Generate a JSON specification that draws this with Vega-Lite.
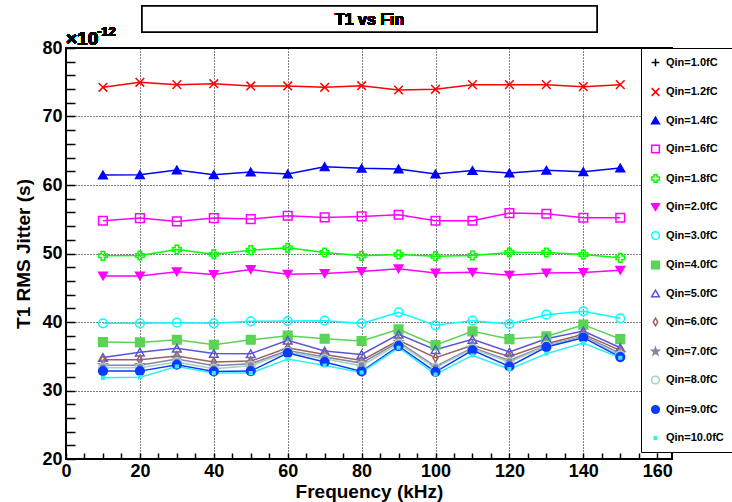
{
  "$schema": "https://vega.github.io/schema/vega-lite/v6.json",
  "width": 606,
  "height": 411,
  "autosize": {"type": "none"},
  "padding": {"left": 66, "top": 48, "right": 60, "bottom": 43},
  "background": "white",
  "config": {
    "font": "Liberation Sans",
    "view": {"stroke": "black", "strokeWidth": 2}
  },
  "data": {"values": [
    {"qin":"Qin=1.2fC","freq":10,"jitter":74.26},{"qin":"Qin=1.2fC","freq":20,"jitter":74.99},{"qin":"Qin=1.2fC","freq":30,"jitter":74.65},{"qin":"Qin=1.2fC","freq":40,"jitter":74.79},{"qin":"Qin=1.2fC","freq":50,"jitter":74.46},{"qin":"Qin=1.2fC","freq":60,"jitter":74.46},{"qin":"Qin=1.2fC","freq":70,"jitter":74.26},{"qin":"Qin=1.2fC","freq":80,"jitter":74.5},{"qin":"Qin=1.2fC","freq":90,"jitter":73.87},{"qin":"Qin=1.2fC","freq":100,"jitter":73.97},{"qin":"Qin=1.2fC","freq":110,"jitter":74.65},{"qin":"Qin=1.2fC","freq":120,"jitter":74.65},{"qin":"Qin=1.2fC","freq":130,"jitter":74.65},{"qin":"Qin=1.2fC","freq":140,"jitter":74.36},{"qin":"Qin=1.2fC","freq":150,"jitter":74.65},
    {"qin":"Qin=1.4fC","freq":10,"jitter":61.46},{"qin":"Qin=1.4fC","freq":20,"jitter":61.51},{"qin":"Qin=1.4fC","freq":30,"jitter":62.2},{"qin":"Qin=1.4fC","freq":40,"jitter":61.51},{"qin":"Qin=1.4fC","freq":50,"jitter":61.9},{"qin":"Qin=1.4fC","freq":60,"jitter":61.61},{"qin":"Qin=1.4fC","freq":70,"jitter":62.68},{"qin":"Qin=1.4fC","freq":80,"jitter":62.44},{"qin":"Qin=1.4fC","freq":90,"jitter":62.34},{"qin":"Qin=1.4fC","freq":100,"jitter":61.61},{"qin":"Qin=1.4fC","freq":110,"jitter":62.1},{"qin":"Qin=1.4fC","freq":120,"jitter":61.76},{"qin":"Qin=1.4fC","freq":130,"jitter":62.15},{"qin":"Qin=1.4fC","freq":140,"jitter":61.95},{"qin":"Qin=1.4fC","freq":150,"jitter":62.49},
    {"qin":"Qin=1.6fC","freq":10,"jitter":54.78},{"qin":"Qin=1.6fC","freq":20,"jitter":55.17},{"qin":"Qin=1.6fC","freq":30,"jitter":54.68},{"qin":"Qin=1.6fC","freq":40,"jitter":55.17},{"qin":"Qin=1.6fC","freq":50,"jitter":55.02},{"qin":"Qin=1.6fC","freq":60,"jitter":55.51},{"qin":"Qin=1.6fC","freq":70,"jitter":55.27},{"qin":"Qin=1.6fC","freq":80,"jitter":55.41},{"qin":"Qin=1.6fC","freq":90,"jitter":55.66},{"qin":"Qin=1.6fC","freq":100,"jitter":54.78},{"qin":"Qin=1.6fC","freq":110,"jitter":54.78},{"qin":"Qin=1.6fC","freq":120,"jitter":55.9},{"qin":"Qin=1.6fC","freq":130,"jitter":55.8},{"qin":"Qin=1.6fC","freq":140,"jitter":55.22},{"qin":"Qin=1.6fC","freq":150,"jitter":55.22},
    {"qin":"Qin=1.8fC","freq":10,"jitter":49.66},{"qin":"Qin=1.8fC","freq":20,"jitter":49.71},{"qin":"Qin=1.8fC","freq":30,"jitter":50.59},{"qin":"Qin=1.8fC","freq":40,"jitter":49.9},{"qin":"Qin=1.8fC","freq":50,"jitter":50.49},{"qin":"Qin=1.8fC","freq":60,"jitter":50.83},{"qin":"Qin=1.8fC","freq":70,"jitter":50.15},{"qin":"Qin=1.8fC","freq":80,"jitter":49.66},{"qin":"Qin=1.8fC","freq":90,"jitter":49.85},{"qin":"Qin=1.8fC","freq":100,"jitter":49.61},{"qin":"Qin=1.8fC","freq":110,"jitter":49.71},{"qin":"Qin=1.8fC","freq":120,"jitter":50.15},{"qin":"Qin=1.8fC","freq":130,"jitter":50.15},{"qin":"Qin=1.8fC","freq":140,"jitter":49.85},{"qin":"Qin=1.8fC","freq":150,"jitter":49.37},
    {"qin":"Qin=2.0fC","freq":10,"jitter":46.73},{"qin":"Qin=2.0fC","freq":20,"jitter":46.73},{"qin":"Qin=2.0fC","freq":30,"jitter":47.32},{"qin":"Qin=2.0fC","freq":40,"jitter":46.93},{"qin":"Qin=2.0fC","freq":50,"jitter":47.66},{"qin":"Qin=2.0fC","freq":60,"jitter":46.98},{"qin":"Qin=2.0fC","freq":70,"jitter":47.07},{"qin":"Qin=2.0fC","freq":80,"jitter":47.37},{"qin":"Qin=2.0fC","freq":90,"jitter":47.76},{"qin":"Qin=2.0fC","freq":100,"jitter":47.17},{"qin":"Qin=2.0fC","freq":110,"jitter":47.27},{"qin":"Qin=2.0fC","freq":120,"jitter":46.83},{"qin":"Qin=2.0fC","freq":130,"jitter":47.17},{"qin":"Qin=2.0fC","freq":140,"jitter":47.22},{"qin":"Qin=2.0fC","freq":150,"jitter":47.56},
    {"qin":"Qin=3.0fC","freq":10,"jitter":39.8},{"qin":"Qin=3.0fC","freq":20,"jitter":39.8},{"qin":"Qin=3.0fC","freq":30,"jitter":39.9},{"qin":"Qin=3.0fC","freq":40,"jitter":39.8},{"qin":"Qin=3.0fC","freq":50,"jitter":40.1},{"qin":"Qin=3.0fC","freq":60,"jitter":40.15},{"qin":"Qin=3.0fC","freq":70,"jitter":40.2},{"qin":"Qin=3.0fC","freq":80,"jitter":39.8},{"qin":"Qin=3.0fC","freq":90,"jitter":41.41},{"qin":"Qin=3.0fC","freq":100,"jitter":39.51},{"qin":"Qin=3.0fC","freq":110,"jitter":40.2},{"qin":"Qin=3.0fC","freq":120,"jitter":39.71},{"qin":"Qin=3.0fC","freq":130,"jitter":41.07},{"qin":"Qin=3.0fC","freq":140,"jitter":41.56},{"qin":"Qin=3.0fC","freq":150,"jitter":40.54},
    {"qin":"Qin=4.0fC","freq":10,"jitter":37.07},{"qin":"Qin=4.0fC","freq":20,"jitter":37.02},{"qin":"Qin=4.0fC","freq":30,"jitter":37.41},{"qin":"Qin=4.0fC","freq":40,"jitter":36.68},{"qin":"Qin=4.0fC","freq":50,"jitter":37.41},{"qin":"Qin=4.0fC","freq":60,"jitter":38.0},{"qin":"Qin=4.0fC","freq":70,"jitter":37.56},{"qin":"Qin=4.0fC","freq":80,"jitter":37.22},{"qin":"Qin=4.0fC","freq":90,"jitter":38.93},{"qin":"Qin=4.0fC","freq":100,"jitter":36.63},{"qin":"Qin=4.0fC","freq":110,"jitter":38.63},{"qin":"Qin=4.0fC","freq":120,"jitter":37.51},{"qin":"Qin=4.0fC","freq":130,"jitter":37.9},{"qin":"Qin=4.0fC","freq":140,"jitter":39.61},{"qin":"Qin=4.0fC","freq":150,"jitter":37.51},
    {"qin":"Qin=5.0fC","freq":10,"jitter":34.83},{"qin":"Qin=5.0fC","freq":20,"jitter":35.6},{"qin":"Qin=5.0fC","freq":30,"jitter":36.15},{"qin":"Qin=5.0fC","freq":40,"jitter":35.4},{"qin":"Qin=5.0fC","freq":50,"jitter":35.37},{"qin":"Qin=5.0fC","freq":60,"jitter":37.32},{"qin":"Qin=5.0fC","freq":70,"jitter":35.76},{"qin":"Qin=5.0fC","freq":80,"jitter":35.27},{"qin":"Qin=5.0fC","freq":90,"jitter":38.2},{"qin":"Qin=5.0fC","freq":100,"jitter":35.95},{"qin":"Qin=5.0fC","freq":110,"jitter":37.46},{"qin":"Qin=5.0fC","freq":120,"jitter":35.61},{"qin":"Qin=5.0fC","freq":130,"jitter":37.56},{"qin":"Qin=5.0fC","freq":140,"jitter":38.68},{"qin":"Qin=5.0fC","freq":150,"jitter":36.24},
    {"qin":"Qin=6.0fC","freq":10,"jitter":34.49},{"qin":"Qin=6.0fC","freq":20,"jitter":34.49},{"qin":"Qin=6.0fC","freq":30,"jitter":35.02},{"qin":"Qin=6.0fC","freq":40,"jitter":34.15},{"qin":"Qin=6.0fC","freq":50,"jitter":34.29},{"qin":"Qin=6.0fC","freq":60,"jitter":36.24},{"qin":"Qin=6.0fC","freq":70,"jitter":35.27},{"qin":"Qin=6.0fC","freq":80,"jitter":34.39},{"qin":"Qin=6.0fC","freq":90,"jitter":37.32},{"qin":"Qin=6.0fC","freq":100,"jitter":34.78},{"qin":"Qin=6.0fC","freq":110,"jitter":36.59},{"qin":"Qin=6.0fC","freq":120,"jitter":34.98},{"qin":"Qin=6.0fC","freq":130,"jitter":36.83},{"qin":"Qin=6.0fC","freq":140,"jitter":38.2},{"qin":"Qin=6.0fC","freq":150,"jitter":35.85},
    {"qin":"Qin=7.0fC","freq":10,"jitter":33.7},{"qin":"Qin=7.0fC","freq":20,"jitter":33.7},{"qin":"Qin=7.0fC","freq":30,"jitter":34.6},{"qin":"Qin=7.0fC","freq":40,"jitter":33.6},{"qin":"Qin=7.0fC","freq":50,"jitter":33.9},{"qin":"Qin=7.0fC","freq":60,"jitter":35.85},{"qin":"Qin=7.0fC","freq":70,"jitter":34.9},{"qin":"Qin=7.0fC","freq":80,"jitter":34.0},{"qin":"Qin=7.0fC","freq":90,"jitter":37.07},{"qin":"Qin=7.0fC","freq":100,"jitter":33.51},{"qin":"Qin=7.0fC","freq":110,"jitter":36.24},{"qin":"Qin=7.0fC","freq":120,"jitter":34.39},{"qin":"Qin=7.0fC","freq":130,"jitter":36.59},{"qin":"Qin=7.0fC","freq":140,"jitter":37.9},{"qin":"Qin=7.0fC","freq":150,"jitter":35.46},
    {"qin":"Qin=8.0fC","freq":10,"jitter":33.32},{"qin":"Qin=8.0fC","freq":20,"jitter":33.32},{"qin":"Qin=8.0fC","freq":30,"jitter":34.15},{"qin":"Qin=8.0fC","freq":40,"jitter":33.17},{"qin":"Qin=8.0fC","freq":50,"jitter":33.6},{"qin":"Qin=8.0fC","freq":60,"jitter":35.6},{"qin":"Qin=8.0fC","freq":70,"jitter":34.63},{"qin":"Qin=8.0fC","freq":80,"jitter":33.6},{"qin":"Qin=8.0fC","freq":90,"jitter":36.83},{"qin":"Qin=8.0fC","freq":100,"jitter":33.32},{"qin":"Qin=8.0fC","freq":110,"jitter":36.1},{"qin":"Qin=8.0fC","freq":120,"jitter":34.15},{"qin":"Qin=8.0fC","freq":130,"jitter":36.54},{"qin":"Qin=8.0fC","freq":140,"jitter":37.8},{"qin":"Qin=8.0fC","freq":150,"jitter":35.12},
    {"qin":"Qin=9.0fC","freq":10,"jitter":32.83},{"qin":"Qin=9.0fC","freq":20,"jitter":32.83},{"qin":"Qin=9.0fC","freq":30,"jitter":33.76},{"qin":"Qin=9.0fC","freq":40,"jitter":32.78},{"qin":"Qin=9.0fC","freq":50,"jitter":32.83},{"qin":"Qin=9.0fC","freq":60,"jitter":35.46},{"qin":"Qin=9.0fC","freq":70,"jitter":34.15},{"qin":"Qin=9.0fC","freq":80,"jitter":32.78},{"qin":"Qin=9.0fC","freq":90,"jitter":36.49},{"qin":"Qin=9.0fC","freq":100,"jitter":32.73},{"qin":"Qin=9.0fC","freq":110,"jitter":35.85},{"qin":"Qin=9.0fC","freq":120,"jitter":33.51},{"qin":"Qin=9.0fC","freq":130,"jitter":36.34},{"qin":"Qin=9.0fC","freq":140,"jitter":37.71},{"qin":"Qin=9.0fC","freq":150,"jitter":34.88},
    {"qin":"Qin=10.0fC","freq":10,"jitter":31.85},{"qin":"Qin=10.0fC","freq":20,"jitter":31.95},{"qin":"Qin=10.0fC","freq":30,"jitter":33.51},{"qin":"Qin=10.0fC","freq":40,"jitter":32.54},{"qin":"Qin=10.0fC","freq":50,"jitter":32.54},{"qin":"Qin=10.0fC","freq":60,"jitter":34.59},{"qin":"Qin=10.0fC","freq":70,"jitter":33.66},{"qin":"Qin=10.0fC","freq":80,"jitter":32.63},{"qin":"Qin=10.0fC","freq":90,"jitter":36.24},{"qin":"Qin=10.0fC","freq":100,"jitter":32.34},{"qin":"Qin=10.0fC","freq":110,"jitter":35.12},{"qin":"Qin=10.0fC","freq":120,"jitter":33.12},{"qin":"Qin=10.0fC","freq":130,"jitter":35.37},{"qin":"Qin=10.0fC","freq":140,"jitter":36.93},{"qin":"Qin=10.0fC","freq":150,"jitter":34.78}
  ]},
  "resolve": {"axis": {"x": "independent", "y": "independent"}},
  "layer": [
    {
      "mark": {"type": "line", "strokeWidth": 1.5, "clip": false},
      "encoding": {
        "x": {"field": "freq", "type": "quantitative",
          "scale": {"domain": [0, 164], "nice": false, "zero": false},
          "axis": {"orient": "bottom", "offset": -6, "values": [0,5,10,15,20,25,30,35,40,45,50,55,60,65,70,75,80,85,90,95,100,105,110,115,120,125,130,135,140,145,150,155,160],
            "ticks": true, "tickColor": "black", "tickWidth": 1.5, "tickSize": 6,
            "grid": true, "gridDash": [1,2], "gridColor": "black", "gridWidth": 1,
            "gridOpacity": {"condition": {"test": "datum.value % 20 === 0", "value": 1}, "value": 0},
            "domain": false,
            "labelExpr": "datum.value % 20 === 0 ? datum.label : ''",
            "labelFont": "Liberation Sans", "labelFontWeight": "bold", "labelFontSize": 18, "labelColor": "black", "labelPadding": 3, "labelFlush": false, "labelOverlap": false,
            "title": "Frequency (kHz)", "titleFont": "Liberation Sans", "titleFontWeight": "bold", "titleFontSize": 19, "titleColor": "black", "titlePadding": 2}},
        "y": {"field": "jitter", "type": "quantitative",
          "scale": {"domain": [20, 80], "nice": false, "zero": false},
          "axis": {"orient": "left", "offset": -9, "values": [20,22,24,26,28,30,32,34,36,38,40,42,44,46,48,50,52,54,56,58,60,62,64,66,68,70,72,74,76,78,80],
            "ticks": true, "tickColor": "black", "tickWidth": 1.5, "tickSize": 9,
            "grid": true, "gridDash": [1,2], "gridColor": "black", "gridWidth": 1,
            "gridOpacity": {"condition": {"test": "datum.value % 10 === 0", "value": 1}, "value": 0},
            "domain": false,
            "labelExpr": "datum.value % 10 === 0 ? datum.label : ''",
            "labelFont": "Liberation Sans", "labelFontWeight": "bold", "labelFontSize": 18, "labelColor": "black", "labelPadding": 4, "labelFlush": false, "labelOverlap": false,
            "title": "T1 RMS Jitter (s)", "titleFont": "Liberation Sans", "titleFontWeight": "bold", "titleFontSize": 19, "titleColor": "black", "titlePadding": 8}},
        "stroke": {"field": "qin", "type": "nominal",
          "legend": {"orient": "none", "legendX": 575, "legendY": 0, "title": null, "strokeColor": "black", "fillColor": "white", "padding": 9, "labelFont": "Liberation Sans", "labelFontWeight": "bold", "labelFontSize": 11, "labelColor": "black", "labelOffset": 5, "symbolSize": 60, "symbolStrokeWidth": 1.5, "rowPadding": 14.5, "symbolType": "circle"},
          "scale": {"domain": ["Qin=1.0fC","Qin=1.2fC","Qin=1.4fC","Qin=1.6fC","Qin=1.8fC","Qin=2.0fC","Qin=3.0fC","Qin=4.0fC","Qin=5.0fC","Qin=6.0fC","Qin=7.0fC","Qin=8.0fC","Qin=9.0fC","Qin=10.0fC"],
            "range": ["#000000","#ff0000","#0000ff","#ff00ff","#00ff00","#ff00ff","#00ffff","#59d454","#5954d9","#9a6262","#8585a6","#a5cfc0","#0a3cff","#33eeee"]}}
      }
    },
    {
      "mark": {"type": "point", "filled": true, "size": 75, "strokeWidth": 1.5, "opacity": 1, "clip": false},
      "encoding": {
        "x": {"field": "freq", "type": "quantitative", "axis": null},
        "y": {"field": "jitter", "type": "quantitative", "axis": null},
        "stroke": {"field": "qin", "type": "nominal"},
        "fill": {"field": "qin", "type": "nominal",
          "legend": {"orient": "none", "legendX": 575, "legendY": 0, "title": null, "strokeColor": "black", "fillColor": "white", "padding": 9, "labelFont": "Liberation Sans", "labelFontWeight": "bold", "labelFontSize": 11, "labelColor": "black", "labelOffset": 5, "symbolSize": 60, "symbolStrokeWidth": 1.5, "rowPadding": 14.5},
          "scale": {"domain": ["Qin=1.0fC","Qin=1.2fC","Qin=1.4fC","Qin=1.6fC","Qin=1.8fC","Qin=2.0fC","Qin=3.0fC","Qin=4.0fC","Qin=5.0fC","Qin=6.0fC","Qin=7.0fC","Qin=8.0fC","Qin=9.0fC","Qin=10.0fC"],
            "range": ["transparent","transparent","#0000ff","transparent","transparent","#ff00ff","transparent","#59d454","transparent","transparent","#8585a6","transparent","#0a3cff","#33eeee"]}},
        "shape": {"field": "qin", "type": "nominal",
          "legend": {"orient": "none", "legendX": 575, "legendY": 0, "title": null, "strokeColor": "black", "fillColor": "white", "padding": 9, "labelFont": "Liberation Sans", "labelFontWeight": "bold", "labelFontSize": 11, "labelColor": "black", "labelOffset": 5, "symbolSize": 60, "symbolStrokeWidth": 1.5, "rowPadding": 14.5},
          "scale": {"domain": ["Qin=1.0fC","Qin=1.2fC","Qin=1.4fC","Qin=1.6fC","Qin=1.8fC","Qin=2.0fC","Qin=3.0fC","Qin=4.0fC","Qin=5.0fC","Qin=6.0fC","Qin=7.0fC","Qin=8.0fC","Qin=9.0fC","Qin=10.0fC"],
            "range": ["M-1,0H1M0,-1V1","M-1,-1L1,1M-1,1L1,-1","triangle-up","square","cross","triangle-down","circle","square","triangle-up","M0,-1L0.6,0L0,1L-0.6,0Z","M0,-1L0.235,-0.324L0.951,-0.309L0.38,0.124L0.588,0.809L0,0.4L-0.588,0.809L-0.38,0.124L-0.951,-0.309L-0.235,-0.324Z","circle","circle","M-0.3,-0.3H0.3V0.3H-0.3Z"]}}
      }
    },
    {
      "mark": {"type": "rect", "fill": "white", "stroke": "black", "strokeWidth": 1.5, "clip": false},
      "encoding": {
        "x": {"datum": 20.57, "type": "quantitative", "axis": null},
        "x2": {"datum": 143.7},
        "y": {"datum": 86.13, "type": "quantitative", "axis": null},
        "y2": {"datum": 82.34}
      }
    },
    {
      "mark": {"type": "text", "text": "×10", "font": "Liberation Sans", "fontWeight": "bold", "fontSize": 19, "align": "left", "baseline": "alphabetic", "dy": -3, "color": "black", "clip": false},
      "encoding": {
        "x": {"datum": 0, "type": "quantitative", "axis": null},
        "y": {"datum": 80, "type": "quantitative", "axis": null}
      }
    },
    {
      "mark": {"type": "text", "text": "-12", "font": "Liberation Sans", "fontWeight": "bold", "fontSize": 13, "align": "left", "baseline": "alphabetic", "dx": 31, "dy": -12, "color": "black", "clip": false},
      "encoding": {
        "x": {"datum": 0, "type": "quantitative", "axis": null},
        "y": {"datum": 80, "type": "quantitative", "axis": null}
      }
    },
    {
      "mark": {"type": "text", "text": "T1 vs Fin", "font": "Liberation Sans", "fontWeight": "bold", "fontSize": 16, "align": "center", "baseline": "middle", "color": "black", "clip": false},
      "encoding": {
        "x": {"datum": 82.15, "type": "quantitative", "axis": null},
        "y": {"datum": 84.16, "type": "quantitative", "axis": null}
      }
    }
  ]
}
